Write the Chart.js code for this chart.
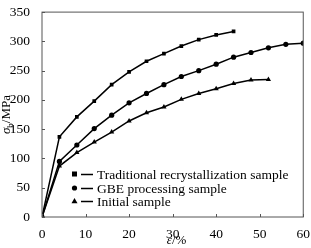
<!DOCTYPE html>
<html>
<head>
<meta charset="utf-8">
<script src="https://cdn.jsdelivr.net/npm/chart.js@4.4.0/dist/chart.umd.min.js"></script>
<style>
  html, body { margin: 0; padding: 0; background: #fff; }
  #wrap { width: 311px; height: 248px; }
</style>
</head>
<body>
<div id="wrap"><canvas id="chart" width="311" height="248"></canvas></div>
<script>
// strain values (%)
const strainTrad = [0, 4, 8, 12, 16, 20, 24, 28, 32, 36, 40, 44];
const strainGbe = [0, 4, 8, 12, 16, 20, 24, 28, 32, 36, 40, 44, 48, 52, 56, 60];
const strainInit = [0, 4, 8, 12, 16, 20, 24, 28, 32, 36, 40, 44, 48, 52];

// stress values (MPa)
const stressTrad = [0, 137, 171, 198, 226, 248, 266, 279, 292, 303, 311, 317];
const stressGbe = [0, 95, 123, 151, 174, 195, 211, 226, 240, 250, 261, 273, 281, 289, 295, 297];
const stressInit = [0, 87, 110, 128, 145, 164, 178, 188, 201, 211, 219, 228, 234, 235];

const seriesLabels = ['Traditional recrystallization sample', 'GBE processing sample', 'Initial sample'];
const seriesMarkers = ['rect', 'circle', 'triangle'];

const xTicks = [0, 10, 20, 30, 40, 50, 60];
const yTicks = [0, 50, 100, 150, 200, 250, 300, 350];

const serif = '"Liberation Serif", "DejaVu Serif", serif';

function toPoints(xs, ys) {
  return xs.map((x, i) => ({ x: x, y: ys[i] }));
}

function makeSet(i, xs, ys) {
  return {
    label: seriesLabels[i],
    data: toPoints(xs, ys),
    borderColor: '#000',
    backgroundColor: '#000',
    borderWidth: 1.5,
    pointStyle: seriesMarkers[i],
    pointRadius: seriesMarkers[i] === 'triangle' ? 3 : 2.6,
    pointBorderWidth: 0,
    tension: 0
  };
}

// frame, inner ticks, axis titles and legend
const decor = {
  id: 'decor',
  afterDraw(chart) {
    const ctx = chart.ctx;
    const a = chart.chartArea;
    const xs = chart.scales.x, ys = chart.scales.y;
    ctx.save();
    ctx.strokeStyle = '#555';
    ctx.lineWidth = 1;
    ctx.strokeRect(a.left, a.top, a.right - a.left, a.bottom - a.top);
    ctx.beginPath();
    xTicks.forEach(v => {
      const px = Math.round(xs.getPixelForValue(v)) + 0.5;
      ctx.moveTo(px, a.bottom); ctx.lineTo(px, a.bottom - 3);
    });
    yTicks.forEach(v => {
      const py = Math.round(ys.getPixelForValue(v)) + 0.5;
      ctx.moveTo(a.left, py); ctx.lineTo(a.left + 3, py);
    });
    ctx.stroke();

    // y title: sigma_b/MPa
    ctx.fillStyle = '#000';
    ctx.translate(10, (a.top + a.bottom) / 2);
    ctx.rotate(-Math.PI / 2);
    ctx.textBaseline = 'alphabetic';
    ctx.textAlign = 'left';
    const p1 = 'σ', p2 = 'b', p3 = '/MPa';
    ctx.font = 'italic 13px ' + serif;
    const w1 = ctx.measureText(p1).width;
    ctx.font = '9px ' + serif;
    const w2 = ctx.measureText(p2).width;
    ctx.font = '13px ' + serif;
    const w3 = ctx.measureText(p3).width;
    let x0 = -(w1 + w2 + w3) / 2;
    ctx.font = 'italic 13px ' + serif;
    ctx.fillText(p1, x0, 0);
    ctx.font = '9px ' + serif;
    ctx.fillText(p2, x0 + w1, 3);
    ctx.font = '13px ' + serif;
    ctx.fillText(p3, x0 + w1 + w2, 0);
    ctx.setTransform(1, 0, 0, 1, 0, 0);

    // x title: epsilon/%
    ctx.font = 'italic 13px ' + serif;
    const e1 = 'ε';
    const ew = ctx.measureText(e1).width;
    ctx.font = '13px ' + serif;
    const ew2 = ctx.measureText('/%').width;
    const cx = (a.left + a.right) / 2 + 4 - (ew + ew2) / 2;
    ctx.font = 'italic 13px ' + serif;
    ctx.fillText(e1, cx, 244);
    ctx.font = '13px ' + serif;
    ctx.fillText('/%', cx + ew, 244);

    // legend
    const rows = [174, 188, 201];
    chart.data.datasets.forEach((ds, i) => {
      const y = rows[i];
      ctx.fillStyle = '#000';
      ctx.strokeStyle = '#000';
      ctx.lineWidth = 1.5;
      if (seriesMarkers[i] === 'rect') {
        ctx.fillRect(72, y - 2.5, 5, 5);
      } else if (seriesMarkers[i] === 'circle') {
        ctx.beginPath(); ctx.arc(74.5, y, 2.6, 0, Math.PI * 2); ctx.fill();
      } else {
        ctx.beginPath();
        ctx.moveTo(74.5, y - 3); ctx.lineTo(77.5, y + 2.2); ctx.lineTo(71.5, y + 2.2);
        ctx.closePath(); ctx.fill();
      }
      ctx.beginPath();
      ctx.moveTo(81, y + 0.5); ctx.lineTo(93, y + 0.5);
      ctx.stroke();
      ctx.font = '13.5px ' + serif;
      ctx.textBaseline = 'middle';
      ctx.fillText(ds.label, 97, y + 1);
    });
    ctx.restore();
  }
};

new Chart(document.getElementById('chart'), {
  type: 'line',
  data: {
    datasets: [
      makeSet(0, strainTrad, stressTrad),
      makeSet(1, strainGbe, stressGbe),
      makeSet(2, strainInit, stressInit)
    ]
  },
  options: {
    responsive: false,
    animation: false,
    layout: { padding: { top: 5, right: 6, left: 0, bottom: 0 } },
    plugins: {
      legend: { display: false },
      tooltip: { enabled: false }
    },
    scales: {
      x: {
        type: 'linear',
        min: 0, max: 60,
        afterFit: s => { s.height = 31; },
        afterBuildTicks: s => { s.ticks = xTicks.map(v => ({ value: v })); },
        grid: { display: false },
        border: { display: false },
        ticks: { color: '#000', font: { family: serif, size: 13.5 }, padding: 1, maxRotation: 0 }
      },
      y: {
        type: 'linear',
        min: 0, max: 350,
        afterFit: s => { s.width = 42; },
        afterBuildTicks: s => { s.ticks = yTicks.map(v => ({ value: v })); },
        grid: { display: false },
        border: { display: false },
        ticks: { color: '#000', font: { family: serif, size: 13.5 }, padding: 4 }
      }
    }
  },
  plugins: [decor]
});
</script>
</body>
</html>
